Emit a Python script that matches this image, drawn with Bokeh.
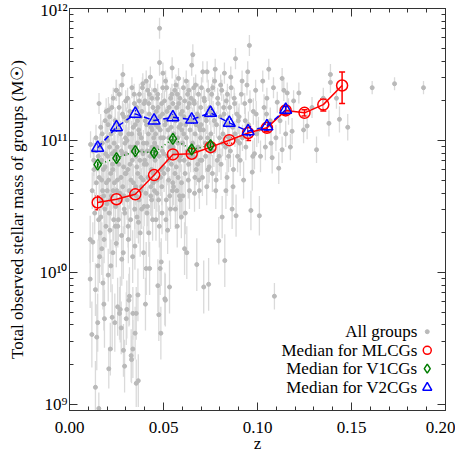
from bokeh.plotting import figure
from bokeh.models import (FixedTicker, NumeralTickFormatter, CustomJSTickFormatter,
                          LinearAxis, LogAxis, Whisker, TeeHead, ColumnDataSource)
from bokeh.core.properties import value
from bokeh.embed import file_html
from bokeh.resources import INLINE

# ---------------- data: all groups (z, log10 M*, error in dex) ----------------
bin_a = [(0.0110,10.25,.18),(0.0110,9.95,.22),(0.0119,9.53,.25),(0.0124,10.23,.15),(0.0138,9.87,.2),
         (0.0138,9.13,.2),(0.0145,9.51,.25),(0.0121,10.62,.14),(0.0130,10.78,.12),(0.0127,10.92,.1),
         (0.0141,11.02,.1),(0.0134,10.45,.16),(0.0129,10.85,.12),(0.0143,10.68,.14),(0.0112,10.97,.1)]
bin_b = [(0.0150,9.62,.22),(0.0156,8.97,.12),(0.0152,10.05,.2),(0.0155,10.40,.16),(0.0158,10.72,.14),
         (0.0161,10.95,.1),(0.0163,10.30,.18),(0.0166,11.10,.1),(0.0168,10.55,.15),(0.0170,10.85,.12),
         (0.0172,10.18,.2),(0.0174,11.05,.1),(0.0176,10.62,.14),(0.0178,9.92,.2),(0.0180,10.78,.12),
         (0.0183,9.76,.2),(0.0186,9.65,.22),(0.0188,10.48,.15),(0.0190,11.15,.1),
         (0.0192,10.90,.12),(0.0194,10.35,.16),(0.0196,10.68,.14),(0.0198,11.02,.1),(0.0153,10.88,.12),
         (0.0160,10.12,.2),(0.0167,10.42,.16),(0.0175,10.98,.1),(0.0182,10.58,.15),(0.0189,10.80,.12),
         (0.0195,11.22,.1),(0.0157,11.28,.08),(0.0171,10.70,.14),(0.0184,10.25,.18),(0.0199,10.52,.15)]
bin_c = [(0.0201,10.62,.14),(0.0203,10.88,.12),(0.0205,11.12,.1),(0.0207,11.23,.1),(0.0209,9.27,.15),
         (0.0211,10.45,.16),(0.0213,10.95,.1),(0.0215,10.32,.18),(0.0217,9.42,.2),(0.0219,10.75,.14),
         (0.0221,11.05,.1),(0.0223,10.58,.15),(0.0225,11.25,.1),(0.0227,9.66,.25),(0.0229,10.82,.12),
         (0.0231,10.15,.2),(0.0233,11.32,.08),(0.0235,10.40,.16),(0.0237,10.98,.1),(0.0239,10.68,.14),
         (0.0241,9.62,.22),(0.0243,11.15,.1),(0.0245,10.50,.15),(0.0247,10.88,.12),(0.0249,10.22,.18),
         (0.0202,11.00,.1),(0.0208,10.70,.14),(0.0214,11.18,.1),(0.0220,10.05,.2),(0.0226,10.90,.12),
         (0.0232,10.62,.14),(0.0238,11.08,.1),(0.0244,10.35,.16),(0.0248,11.38,.08),(0.0206,9.98,.2),
         (0.0218,10.55,.15),(0.0230,10.78,.12),(0.0242,10.92,.12)]
bin_d = [(0.0250,11.38,.08),(0.0252,10.62,.14),(0.0254,10.95,.1),(0.0256,9.74,.22),(0.0258,11.12,.1),
         (0.0260,10.40,.16),(0.0262,10.82,.12),(0.0264,11.25,.1),(0.0266,9.69,.2),(0.0268,10.55,.15),
         (0.0270,9.72,.25),(0.0272,11.05,.1),(0.0274,10.72,.14),(0.0275,9.58,.2),(0.0277,10.28,.18),
         (0.0279,11.42,.08),(0.0281,10.90,.12),(0.0283,10.65,.14),(0.0284,11.50,.08),(0.0286,10.15,.2),
         (0.0287,9.41,.2),(0.0289,11.18,.1),(0.0291,10.48,.15),(0.0293,9.29,.2),(0.0295,10.98,.1),
         (0.0297,10.75,.14),(0.0299,11.30,.08),(0.0251,10.85,.12),(0.0257,10.35,.16),(0.0263,11.08,.1),
         (0.0269,10.60,.14),(0.0276,10.92,.12),(0.0282,11.20,.1),(0.0288,10.80,.12),(0.0294,10.45,.16),
         (0.0298,11.02,.1),(0.0255,10.70,.14),(0.0265,11.35,.08),(0.0278,10.10,.2),(0.0290,10.58,.15)]
bin_e = [(0.0300,10.90,.12),(0.0302,9.65,.2),(0.0304,11.15,.1),(0.0305,9.72,.22),(0.0307,10.55,.15),
         (0.0309,11.32,.08),(0.0311,10.78,.12),(0.0313,10.25,.18),(0.0315,11.05,.1),(0.0316,9.79,.2),
         (0.0318,10.62,.14),(0.0319,9.82,.22),(0.0321,11.22,.1),(0.0323,10.95,.1),(0.0325,10.40,.16),
         (0.0327,10.70,.14),(0.0328,9.37,.2),(0.0330,9.34,.18),(0.0332,11.40,.08),(0.0334,10.85,.12),
         (0.0336,10.12,.2),(0.0337,9.42,.22),(0.0337,9.69,.2),(0.0339,11.10,.1),(0.0341,10.60,.14),
         (0.0343,10.95,.1),(0.0345,11.28,.08),(0.0347,10.48,.15),(0.0349,9.54,.2),(0.0301,10.75,.14),
         (0.0306,11.00,.1),(0.0312,10.35,.16),(0.0317,11.18,.1),(0.0322,10.82,.12),(0.0326,10.58,.15),
         (0.0331,11.05,.1),(0.0335,10.92,.12),(0.0340,10.68,.14),(0.0344,11.35,.08),(0.0348,10.20,.18)]
bin_f = [(0.0350,11.12,.1),(0.0352,10.65,.14),(0.0354,10.88,.12),(0.0355,9.69,.2),(0.0355,9.16,.18),
         (0.0357,11.25,.1),(0.0359,10.42,.16),(0.0361,10.98,.1),(0.0363,10.75,.14),(0.0364,9.83,.2),
         (0.0366,9.18,.2),(0.0368,11.08,.1),(0.0370,10.55,.15),(0.0372,11.35,.08),(0.0374,10.85,.12),
         (0.0376,10.30,.18),(0.0378,11.18,.1),(0.0380,10.62,.14),(0.0382,11.02,.1),(0.0384,10.48,.15),
         (0.0386,10.92,.12),(0.0388,11.40,.08),(0.0390,11.43,.08),(0.0392,10.70,.14),(0.0394,10.15,.2),
         (0.0396,11.28,.08),(0.0398,10.82,.12),(0.0351,10.95,.12),(0.0356,10.58,.15),(0.0362,11.15,.1),
         (0.0367,10.38,.16),(0.0373,11.05,.1),(0.0379,10.72,.14),(0.0385,11.22,.1),(0.0391,10.90,.12),
         (0.0397,10.50,.15),(0.0358,10.80,.12),(0.0371,11.30,.08),(0.0383,10.65,.14),(0.0393,10.98,.1)]
bin_g = [(0.0400,10.85,.12),(0.0402,11.30,.08),(0.0404,9.76,.2),(0.0406,10.60,.14),(0.0408,11.45,.08),
         (0.0408,10.03,.2),(0.0410,11.12,.1),(0.0412,10.45,.16),(0.0414,10.92,.12),(0.0416,11.38,.08),
         (0.0418,10.72,.14),(0.0420,11.05,.1),(0.0422,10.30,.18),(0.0424,11.20,.1),(0.0426,10.03,.2),
         (0.0428,10.88,.12),(0.0430,11.48,.08),(0.0432,10.58,.15),(0.0434,11.10,.1),(0.0436,10.78,.12),
         (0.0438,11.32,.08),(0.0440,10.95,.1),(0.0442,10.40,.16),(0.0444,11.25,.1),(0.0446,10.68,.14),
         (0.0448,11.02,.1),(0.0403,11.15,.1),(0.0409,10.82,.12),(0.0415,10.50,.15),(0.0421,11.28,.08),
         (0.0427,10.92,.12),(0.0433,10.65,.14),(0.0439,11.08,.1),(0.0445,10.75,.14),(0.0411,10.98,.1),
         (0.0425,11.35,.08),(0.0437,10.55,.15)]
bin_h = [(0.0450,11.15,.1),(0.0452,10.62,.14),(0.0454,11.38,.08),(0.0456,10.85,.12),(0.0458,11.05,.1),
         (0.0460,10.40,.16),(0.0462,11.22,.1),(0.0464,10.95,.1),(0.0466,10.70,.14),(0.0468,11.32,.08),
         (0.0470,9.90,.2),(0.0472,11.10,.1),(0.0474,10.55,.15),(0.0475,9.68,.2),(0.0477,10.88,.12),
         (0.0479,11.85,.08),(0.0479,11.59,.1),(0.0481,11.18,.1),(0.0482,10.03,.2),(0.0484,10.72,.14),
         (0.0486,9.54,.2),(0.0486,11.02,.1),(0.0488,10.08,.18),(0.0490,11.28,.08),(0.0492,10.45,.16),
         (0.0494,10.92,.12),(0.0496,11.40,.08),(0.0497,11.51,.08),(0.0499,10.80,.12),(0.0453,10.98,.1),
         (0.0459,11.12,.1),(0.0465,10.60,.14),(0.0471,11.25,.1),(0.0478,10.35,.16),(0.0483,11.08,.1),
         (0.0489,10.78,.12),(0.0495,11.20,.1),(0.0457,10.90,.12),(0.0469,11.35,.08),(0.0491,10.65,.14)]
bin_i = [(0.0500,11.02,.1),(0.0503,10.75,.14),(0.0505,11.30,.08),(0.0507,9.80,.2),(0.0510,9.79,.2),
         (0.0512,11.15,.1),(0.0515,10.55,.15),(0.0517,11.40,.08),(0.0520,10.88,.12),(0.0522,10.32,.18),
         (0.0525,11.08,.1),(0.0527,10.70,.14),(0.0530,11.25,.1),(0.0532,9.89,.2),(0.0535,10.95,.1),
         (0.0537,10.48,.15),(0.0540,11.18,.1),(0.0542,10.82,.12),(0.0545,11.35,.08),(0.0546,11.55,.08),
         (0.0548,10.62,.14),(0.0501,10.90,.12),(0.0508,11.12,.1),(0.0513,10.40,.16),(0.0518,11.22,.1),
         (0.0523,10.78,.12),(0.0528,11.02,.1),(0.0533,10.58,.15),(0.0538,11.32,.08),(0.0543,10.98,.1),
         (0.0549,10.68,.14),(0.0511,11.45,.08),(0.0526,10.85,.12),(0.0541,11.10,.1)]
bin_j = [(0.0550,11.28,.08),(0.0553,10.65,.14),(0.0555,11.05,.1),(0.0558,10.92,.12),(0.0560,11.38,.08),
         (0.0563,10.48,.15),(0.0565,11.15,.1),(0.0568,10.80,.12),(0.0570,11.25,.1),(0.0573,10.35,.16),
         (0.0575,11.02,.1),(0.0578,10.72,.14),(0.0580,11.47,.08),(0.0582,11.10,.1),(0.0585,10.58,.15),
         (0.0587,11.32,.08),(0.0590,10.88,.12),(0.0592,11.20,.1),(0.0595,10.42,.16),(0.0597,11.08,.1),
         (0.0551,10.95,.12),(0.0556,11.18,.1),(0.0561,10.75,.14),(0.0566,11.42,.08),(0.0571,10.62,.14),
         (0.0576,10.98,.1),(0.0581,11.28,.08),(0.0586,10.85,.12),(0.0591,11.12,.1),(0.0596,10.68,.14),
         (0.0559,10.90,.12),(0.0574,11.35,.08),(0.0589,10.55,.15)]
bin_k = [(0.0600,11.22,.1),(0.0603,10.58,.15),(0.0606,11.40,.08),(0.0608,11.05,.1),(0.0610,10.85,.12),
         (0.0613,11.30,.08),(0.0616,10.45,.16),(0.0619,11.12,.1),(0.0621,11.45,.08),(0.0624,10.15,.2),
         (0.0627,10.92,.12),(0.0630,11.25,.1),(0.0632,10.70,.14),(0.0635,11.38,.08),(0.0638,10.62,.14),
         (0.0641,11.08,.1),(0.0644,10.88,.12),(0.0647,11.32,.08),(0.0650,11.57,.08),(0.0602,10.98,.1),
         (0.0609,11.18,.1),(0.0615,10.75,.14),(0.0622,11.02,.1),(0.0628,11.35,.08),(0.0634,10.82,.12),
         (0.0640,11.15,.1),(0.0646,10.95,.1),(0.0612,10.18,.2),(0.0637,11.28,.08)]
bin_l = [(0.0653,11.15,.1),(0.0656,11.65,.08),(0.0659,10.88,.12),(0.0662,11.30,.08),(0.0665,10.60,.14),
         (0.0668,11.05,.1),(0.0671,11.42,.08),(0.0674,10.78,.12),(0.0677,10.06,.2),(0.0680,11.20,.1),
         (0.0683,10.95,.1),(0.0686,11.35,.08),(0.0689,10.70,.14),(0.0692,11.10,.1),(0.0695,10.85,.12),
         (0.0698,11.25,.1),(0.0655,10.98,.1),(0.0661,11.40,.08),(0.0667,10.72,.14),(0.0673,11.12,.1),
         (0.0679,10.92,.12),(0.0685,11.18,.1),(0.0691,10.62,.14),(0.0697,11.02,.1),(0.0664,11.28,.08),
         (0.0682,10.82,.12),(0.0694,11.08,.1)]
bin_m = [(0.0700,11.12,.1),(0.0704,10.85,.12),(0.0709,11.52,.08),(0.0714,9.89,.2),(0.0718,11.30,.08),
         (0.0722,10.98,.1),(0.0726,11.18,.1),(0.0730,10.65,.14),(0.0732,11.52,.08),(0.0735,11.02,.1),
         (0.0738,11.38,.08),(0.0740,9.91,.2),(0.0743,10.80,.12),(0.0746,11.25,.1),(0.0749,10.92,.12),
         (0.0702,11.40,.08),(0.0707,10.72,.14),(0.0712,11.08,.1),(0.0716,11.32,.08),(0.0724,10.88,.12),
         (0.0728,11.15,.1),(0.0737,10.78,.12),(0.0745,11.22,.1)]
bin_n = [(0.0752,11.05,.1),(0.0756,11.35,.08),(0.0760,10.75,.14),(0.0764,11.20,.1),(0.0768,10.92,.12),
         (0.0772,11.45,.08),(0.0775,11.54,.08),(0.0778,10.62,.14),(0.0782,11.12,.1),(0.0786,10.85,.12),
         (0.0790,11.28,.08),(0.0794,10.24,.18),(0.0798,11.02,.1),(0.0754,10.98,.1),(0.0762,11.40,.08),
         (0.0770,11.15,.1),(0.0780,10.70,.14),(0.0788,11.32,.08),(0.0796,10.88,.12)]
bin_o = [(0.0802,11.18,.1),(0.0806,10.82,.12),(0.0810,11.38,.08),(0.0812,10.42,.16),(0.0816,11.05,.1),
         (0.0820,11.25,.1),(0.0824,11.51,.08),(0.0826,10.09,.2),(0.0830,10.95,.1),(0.0834,11.30,.08),
         (0.0838,10.72,.14),(0.0842,11.12,.1),(0.0846,10.88,.12),(0.0804,11.42,.08),(0.0814,10.98,.1),
         (0.0822,11.20,.1),(0.0832,10.62,.14),(0.0840,11.35,.08),(0.0848,11.02,.1)]
bin_p = [(0.0852,11.25,.1),(0.0856,10.92,.12),(0.0860,11.40,.08),(0.0865,10.48,.15),(0.0868,11.10,.1),
         (0.0872,10.78,.12),(0.0876,11.32,.08),(0.0880,11.05,.1),(0.0883,11.62,.08),(0.0886,10.43,.16),
         (0.0890,11.20,.1),(0.0894,10.88,.12),(0.0898,11.15,.1),(0.0858,11.48,.08),(0.0870,10.65,.14),
         (0.0878,11.28,.08),(0.0892,11.00,.1)]
bin_q = [(0.0902,11.18,.1),(0.0908,10.85,.12),(0.0914,11.35,.08),(0.0920,11.02,.1),(0.0926,10.70,.14),
         (0.0932,11.28,.08),(0.0938,10.95,.1),(0.0944,11.42,.08),(0.0948,11.52,.08),(0.0952,11.12,.1),
         (0.0957,11.72,.08),(0.0965,10.47,.15),(0.0972,10.76,.14),(0.0978,11.22,.1),
         (0.0984,10.90,.12),(0.0990,11.38,.08),(0.0996,11.05,.1),(0.0905,10.98,.1),(0.0918,11.45,.08),
         (0.0935,11.15,.1),(0.0960,11.30,.08),(0.0975,10.88,.12),(0.0993,11.20,.1)]
bin_r = [(0.1005,11.08,.1),(0.1016,10.88,.12),(0.1028,11.45,.08),(0.1035,11.25,.1),(0.1042,10.95,.1),
         (0.1050,11.32,.08),(0.1060,11.54,.08),(0.1068,11.15,.1),(0.1078,10.87,.12),(0.1085,11.40,.08),
         (0.1090,9.82,.1),(0.1098,11.02,.1),(0.1010,10.43,.15),(0.1048,11.20,.1),(0.1072,10.98,.1)]
bin_s = [(0.1105,11.29,.08),(0.1113,10.79,.12),(0.1120,11.15,.1),(0.1131,11.47,.08),(0.1131,10.93,.1),
         (0.1140,11.38,.08),(0.1150,11.05,.1),(0.1158,11.36,.08),(0.1165,11.22,.1),(0.1175,10.95,.1),
         (0.1184,11.07,.1),(0.1192,11.30,.08)]
bin_t = [(0.1220,11.36,.08),(0.1245,11.08,.1),(0.1264,11.11,.1),(0.1290,11.25,.08),(0.1314,10.93,.1),
         (0.1350,11.32,.08),(0.1380,11.13,.1),(0.1388,11.50,.08),(0.1388,11.44,.08),(0.1436,11.16,.1),
         (0.1480,11.10,.1),(0.1420,11.32,.08)]
bin_u = [(0.1610,11.40,.05),(0.1729,11.43,.05),(0.1883,11.40,.05)]

# ---------------- medians ----------------
mlcg_z = [0.015, 0.025, 0.035, 0.045, 0.055, 0.065, 0.075, 0.085, 0.095, 0.105, 0.115, 0.125, 0.135, 0.145]
mlcg_m = [3.39e10, 3.59e10, 3.91e10, 5.47e10, 7.84e10, 7.94e10, 8.9e10, 1.005e11, 1.14e11, 1.247e11,
          1.69e11, 1.62e11, 1.87e11, 2.61e11]
mlcg_err = [0.4e10, 0.35e10, 0.3e10, 0.35e10, 0.5e10, 0.45e10, 0.4e10, 0.5e10, 1.4e10, 0.8e10,
            1.2e10, 0.9e10, 2.0e10, 7.0e10]

v1_z = [0.015, 0.025, 0.035, 0.045, 0.055, 0.065, 0.075]
v1_m = [6.56e10, 7.35e10, 8.3e10, 8.07e10, 1.03e11, 8.55e10, 9.2e10]
v1_err = [0.35e10, 0.4e10, 0.4e10, 0.4e10, 0.5e10, 0.45e10, 0.45e10]

v2_z = [0.015, 0.025, 0.035, 0.045, 0.055, 0.065, 0.075, 0.085, 0.095, 0.105, 0.115]
v2_m = [8.81e10, 1.26e11, 1.59e11, 1.416e11, 1.50e11, 1.44e11, 1.62e11, 1.36e11, 1.175e11, 1.28e11, 1.71e11]
v2_err = [0.6e10, 0.8e10, 1.0e10, 0.9e10, 0.9e10, 0.9e10, 1.0e10, 0.9e10, 0.9e10, 0.8e10, 1.1e10]

x_ticks = [0.0, 0.05, 0.10, 0.15, 0.20]
x_minor = [0.01, 0.02, 0.03, 0.04, 0.06, 0.07, 0.08, 0.09, 0.11, 0.12, 0.13, 0.14, 0.16, 0.17, 0.18, 0.19]
y_ticks = [1e9, 1e10, 1e11, 1e12]
y_minor = [k * 10.0 ** e for e in (9, 10, 11) for k in range(2, 10)]

leg_labels = ["All groups", "Median for MLCGs", "Median for V1CGs", "Median for V2CGs"]
leg_y = [3.56e9, 2.57e9, 1.87e9, 1.343e9]
leg_text_x = 0.1851
leg_key_x = 0.1903

FONT = "Liberation Serif"
GRAY_PT = "#b9b9b9"
GRAY_ERR = "#dadada"
RED = "#ff0000"
GREEN = "#007d00"
BLUE = "#0000ff"

groups = (bin_a + bin_b + bin_c + bin_d + bin_e + bin_f + bin_g + bin_h + bin_i + bin_j + bin_k +
          bin_l + bin_m + bin_n + bin_o + bin_p + bin_q + bin_r + bin_s + bin_t + bin_u)
gz = [t[0] for t in groups]
gm = [10 ** t[1] for t in groups]
glo = [10 ** (t[1] - t[2]) for t in groups]
ghi = [10 ** (t[1] + t[2]) for t in groups]

p = figure(width=455, height=455, x_range=(0.0, 0.2), y_range=(9e8, 1e12), y_axis_type="log",
           output_backend="svg", toolbar_location=None,
           min_border_left=69, min_border_right=10, min_border_top=8, min_border_bottom=44)
p.grid.visible = False
p.outline_line_color = "#333333"
p.background_fill_color = "white"
p.border_fill_color = "white"

def style_axis(ax):
    ax.major_tick_in = 8
    ax.major_tick_out = 0
    ax.minor_tick_in = 4
    ax.minor_tick_out = 0
    ax.axis_line_color = "#333333"
    ax.major_tick_line_color = "#333333"
    ax.minor_tick_line_color = "#333333"
    ax.major_label_text_font = FONT
    ax.major_label_text_font_size = "17px"
    ax.major_label_text_color = "black"
    ax.axis_label_text_font = FONT
    ax.axis_label_text_font_size = "17px"
    ax.axis_label_text_font_style = "normal"
    ax.axis_label_text_color = "black"

p.xaxis.ticker = FixedTicker(ticks=x_ticks, minor_ticks=x_minor)
p.xaxis.formatter = NumeralTickFormatter(format="0.00")
p.yaxis.ticker = FixedTicker(ticks=y_ticks, minor_ticks=y_minor)
p.yaxis.formatter = CustomJSTickFormatter(code="""
const sup = {"0":"\u2070","1":"\u00b9","2":"\u00b2","3":"\u00b3","4":"\u2074","5":"\u2075",
             "6":"\u2076","7":"\u2077","8":"\u2078","9":"\u2079"};
const e = Math.round(Math.log10(tick));
return "10" + String(e).split("").map(c => sup[c]).join("");
""")
for ax in p.xaxis + p.yaxis:
    style_axis(ax)
p.xaxis.axis_label = "z"
p.yaxis.axis_label = "Total observed stellar mass of groups (M\u2609)"
p.xaxis.major_label_standoff = 11
p.xaxis.axis_label_standoff = -2
p.yaxis.major_label_standoff = 2
p.yaxis.axis_label_standoff = 9

blank = "return ''"
right_ax = LogAxis(ticker=FixedTicker(ticks=y_ticks, minor_ticks=y_minor),
                   formatter=CustomJSTickFormatter(code=blank))
top_ax = LinearAxis(ticker=FixedTicker(ticks=x_ticks, minor_ticks=x_minor),
                    formatter=CustomJSTickFormatter(code=blank))
for ax in (right_ax, top_ax):
    style_axis(ax)
    ax.major_label_text_font_size = "0px"
    ax.major_label_standoff = 0
p.add_layout(right_ax, "right")
p.add_layout(top_ax, "above")

# all groups: error bars then points
p.segment(x0=gz, y0=glo, x1=gz, y1=ghi, line_color=GRAY_ERR, line_width=1.3)
p.scatter(gz, gm, marker="circle", size=4, fill_color=GRAY_PT, line_color=GRAY_PT)

# MLCG medians
red_src = ColumnDataSource(dict(z=mlcg_z, m=mlcg_m,
                                lo=[m - e for m, e in zip(mlcg_m, mlcg_err)],
                                hi=[m + e for m, e in zip(mlcg_m, mlcg_err)]))
p.line("z", "m", source=red_src, line_color=RED, line_width=1.5)
p.add_layout(Whisker(source=red_src, base="z", upper="hi", lower="lo", line_color=RED, line_width=1.5,
                     upper_head=TeeHead(size=6, line_color=RED, line_width=1.5),
                     lower_head=TeeHead(size=6, line_color=RED, line_width=1.5)))
p.scatter("z", "m", source=red_src, marker="circle", size=11, fill_color=None,
          line_color=RED, line_width=1.5)

# V1CG medians
g_src = ColumnDataSource(dict(z=v1_z, m=v1_m,
                              lo=[m - e for m, e in zip(v1_m, v1_err)],
                              hi=[m + e for m, e in zip(v1_m, v1_err)]))
p.line("z", "m", source=g_src, line_color=GREEN, line_width=1.5, line_dash="1 3")
p.segment(x0="z", y0="lo", x1="z", y1="hi", source=g_src, line_color=GREEN, line_width=1.5)
p.scatter("z", "m", source=g_src, marker="diamond", size=11, fill_color=None,
          line_color=GREEN, line_width=1.5)

# V2CG medians
b_src = ColumnDataSource(dict(z=v2_z, m=v2_m,
                              lo=[m - e for m, e in zip(v2_m, v2_err)],
                              hi=[m + e for m, e in zip(v2_m, v2_err)]))
p.line("z", "m", source=b_src, line_color=BLUE, line_width=1.5, line_dash="6 4")
p.add_layout(Whisker(source=b_src, base="z", upper="hi", lower="lo", line_color=BLUE, line_width=1.5,
                     upper_head=TeeHead(size=6, line_color=BLUE, line_width=1.5),
                     lower_head=TeeHead(size=6, line_color=BLUE, line_width=1.5)))
p.scatter("z", "m", source=b_src, marker="triangle", size=12, fill_color=None,
          line_color=BLUE, line_width=1.5)

# legend (text on the left, symbol on the right)
p.text(x=[leg_text_x] * 4, y=leg_y, text=leg_labels, text_align="right", text_baseline="middle",
       text_font=value(FONT), text_font_size="17px", text_color="black")
p.scatter([leg_key_x], [leg_y[0]], marker="circle", size=4, fill_color=GRAY_PT, line_color=GRAY_PT)
p.scatter([leg_key_x], [leg_y[1]], marker="circle", size=8, fill_color=None, line_color=RED, line_width=1.5)
p.scatter([leg_key_x], [leg_y[2]], marker="diamond", size=9, fill_color=None, line_color=GREEN, line_width=1.5)
p.scatter([leg_key_x], [leg_y[3]], marker="triangle", size=9, fill_color=None, line_color=BLUE, line_width=1.5)

open("out.html", "w").write(file_html(p, INLINE))
